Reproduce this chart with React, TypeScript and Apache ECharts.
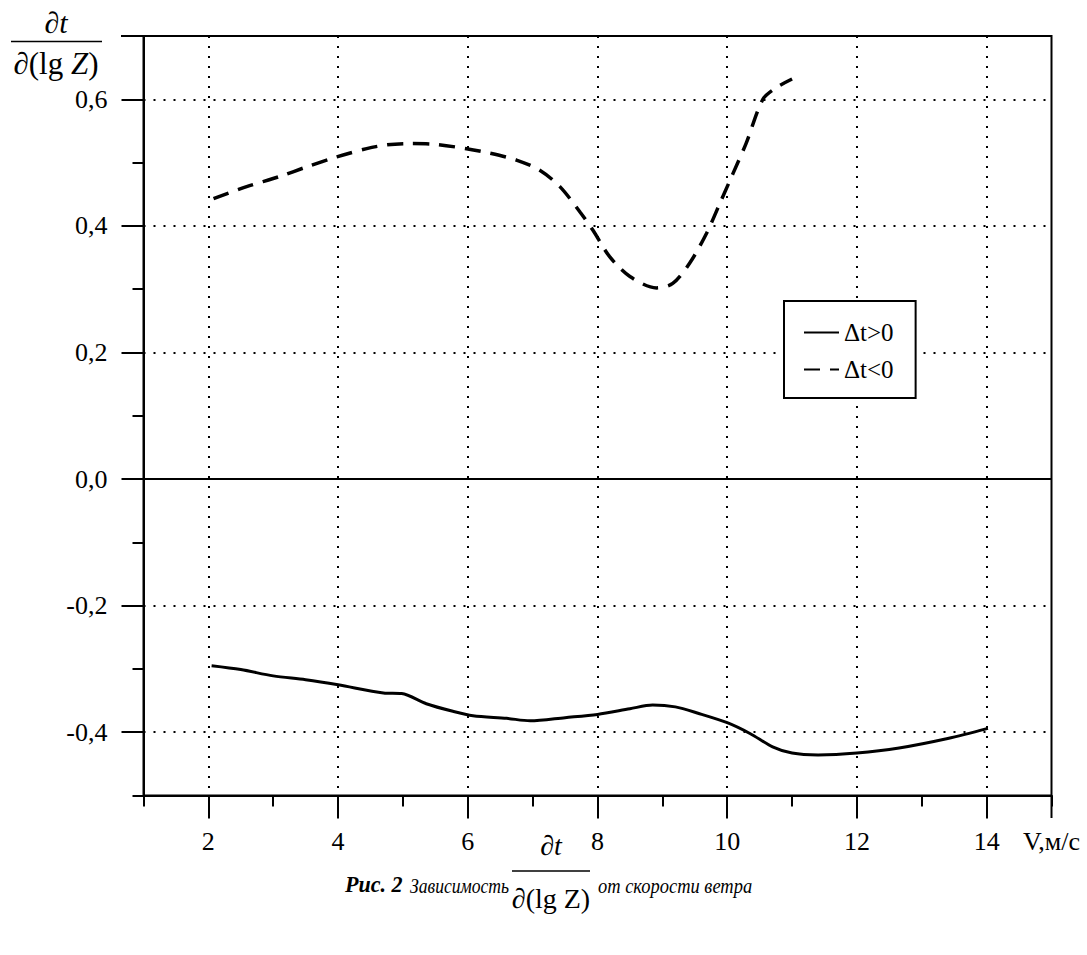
import React, { useEffect, useRef } from 'react';
import * as echarts from 'echarts';

// Δt>0 (solid)
const solidX = [2.05, 2.5, 3.0, 3.5, 4.0, 4.7, 4.98, 5.36, 5.77, 6.08, 6.6, 6.96, 7.5, 8.0, 8.5, 8.85, 9.2, 9.55, 10.0, 10.35, 10.7, 11.0, 11.4, 12.0, 12.65, 13.4, 14.02];
const solidY = [-0.295, -0.301, -0.311, -0.317, -0.325, -0.338, -0.339, -0.355, -0.367, -0.374, -0.378, -0.382, -0.377, -0.372, -0.363, -0.357, -0.36, -0.37, -0.385, -0.402, -0.423, -0.433, -0.436, -0.433, -0.425, -0.41, -0.394];

// Δt<0 (dashed)
const dashX = [2.08, 2.59, 3.1, 3.51, 3.98, 4.44, 4.75, 5.06, 5.47, 5.98, 6.34, 6.75, 7.11, 7.42, 7.73, 7.93, 8.19, 8.5, 8.91, 9.16, 9.42, 9.68, 9.91, 10.09, 10.29, 10.55, 10.75, 11.0];
const dashY = [0.443, 0.462, 0.478, 0.493, 0.509, 0.522, 0.528, 0.53, 0.529, 0.522, 0.515, 0.504, 0.488, 0.462, 0.422, 0.393, 0.351, 0.32, 0.302, 0.309, 0.341, 0.388, 0.441, 0.483, 0.53, 0.6, 0.618, 0.632];

const seriesNames = ['Δt>0', 'Δt<0'];
const xLabelValues = [2, 4, 6, 8, 10, 12, 14];
const yLabelValues = [-0.4, -0.2, 0, 0.2, 0.4, 0.6];
const xUnit = 'V,м/с';
const captionLead = 'Рис. 2';
const captionMid = 'Зависимость';
const captionTail = 'от скорости ветра';

const FONT = "'Liberation Serif', 'Times New Roman', serif";

export default function App() {
  const ref = useRef<HTMLDivElement>(null);
  useEffect(() => {
    const chart = echarts.init(ref.current!, null, { renderer: 'svg' });
    const zip = (xs: number[], ys: number[]) => xs.map((x, i) => [x, ys[i]]);
    const gridDots = { color: '#000', width: 2, type: [2, 8] as number[] };
    chart.setOption({
      animation: false,
      backgroundColor: '#fff',
      textStyle: { fontFamily: FONT },
      grid: {
        left: 143.5, right: 35.5, top: 36, bottom: 159.5,
        show: true, borderColor: '#000', borderWidth: 2, backgroundColor: 'transparent',
      },
      xAxis: [
        {
          type: 'value', min: 1, max: 15, interval: 2,
          axisLine: { onZero: false, lineStyle: { color: '#000', width: 2 } },
          axisTick: { show: true, length: 11, lineStyle: { color: '#000', width: 2 } },
          minorTick: { show: true, splitNumber: 2, length: 23, lineStyle: { color: '#000', width: 2 } },
          splitLine: { show: false },
          minorSplitLine: { show: true, lineStyle: gridDots },
          axisLabel: { show: false },
        },
        {
          type: 'value', min: 1, max: 15, interval: 1, position: 'bottom',
          axisLine: { show: false, onZero: false },
          axisTick: { show: false },
          splitLine: { show: false },
          axisLabel: {
            show: true, interval: 0, margin: 33, hideOverlap: false,
            fontFamily: FONT, fontSize: 26, color: '#000',
            formatter: (v: number) => {
              const r = Math.round(v);
              if (Math.abs(v - r) > 1e-6) return '';
              if (xLabelValues.includes(r)) return String(r);
              if (r === 15) return xUnit;
              return '';
            },
          },
        },
      ],
      yAxis: [
        {
          type: 'value', min: -0.5, max: 0.7, interval: 0.2,
          axisLine: { onZero: false, lineStyle: { color: '#000', width: 2 } },
          axisTick: { show: true, length: 11, lineStyle: { color: '#000', width: 2 } },
          minorTick: { show: true, splitNumber: 2, length: 22, lineStyle: { color: '#000', width: 2 } },
          splitLine: { show: false },
          minorSplitLine: { show: true, lineStyle: gridDots },
          axisLabel: { show: false },
        },
        {
          type: 'value', min: -0.5, max: 0.7, interval: 0.1, position: 'left',
          axisLine: { show: false, onZero: false },
          axisTick: { show: false },
          splitLine: { show: false },
          axisLabel: {
            show: true, margin: 36, fontFamily: FONT, fontSize: 26, color: '#000',
            formatter: (v: number) =>
              yLabelValues.some((t) => Math.abs(t - v) < 1e-6) ? v.toFixed(1).replace('.', ',').replace('-0,0', '0,0') : '',
          },
        },
      ],
      legend: {
        orient: 'vertical', left: 784, top: 301,
        data: seriesNames,
        itemWidth: 35, itemHeight: 14, itemGap: 12,
        padding: [19, 22, 16, 19],
        borderColor: '#000', borderWidth: 2, backgroundColor: '#fff',
        itemStyle: { opacity: 0 },
        textStyle: { fontFamily: FONT, fontSize: 25, color: '#000' },
      },
      series: [
        {
          name: seriesNames[0], type: 'line', xAxisIndex: 0, yAxisIndex: 0,
          data: zip(solidX, solidY), symbol: 'none', showSymbol: false, smooth: 0.3,
          lineStyle: { color: '#000', width: 3 }, itemStyle: { color: '#000' },
          markLine: {
            silent: true, symbol: 'none', label: { show: false },
            lineStyle: { color: '#000', width: 2, type: 'solid' },
            data: [{ yAxis: 0 }],
          },
        },
        {
          name: seriesNames[1], type: 'line', xAxisIndex: 0, yAxisIndex: 0,
          data: zip(dashX, dashY), symbol: 'none', showSymbol: false, smooth: 0.3,
          lineStyle: { color: '#000', width: 3.5, type: [16, 10] }, itemStyle: { color: '#000' },
        },
      ],
      graphic: [
        { type: 'line', shape: { x1: 121, y1: 36, x2: 144, y2: 36 }, style: { stroke: '#000', lineWidth: 2 } },
        { type: 'line', shape: { x1: 1051.5, y1: 795, x2: 1051.5, y2: 818 }, style: { stroke: '#000', lineWidth: 2 } },
        // y-axis title fraction
        {
          type: 'text', x: 56, y: 22,
          style: { text: '∂{i|t}', fontFamily: FONT, fontSize: 30, fill: '#000', align: 'center', verticalAlign: 'middle',
            rich: { i: { fontFamily: FONT, fontSize: 30, fontStyle: 'italic', fill: '#000' } } },
        },
        { type: 'line', shape: { x1: 11, y1: 41.5, x2: 102, y2: 41.5 }, style: { stroke: '#000', lineWidth: 1.5 } },
        {
          type: 'text', x: 56, y: 63,
          style: { text: '∂(lg {i|Z})', fontFamily: FONT, fontSize: 31, fill: '#000', align: 'center', verticalAlign: 'middle',
            rich: { i: { fontFamily: FONT, fontSize: 31, fontStyle: 'italic', fill: '#000' } } },
        },
        // caption
        {
          type: 'text', x: 345, y: 884, scaleX: 0.92,
          style: { text: captionLead, fontFamily: FONT, fontSize: 24, fontStyle: 'italic', fontWeight: 'bold', fill: '#000',
            align: 'left', verticalAlign: 'middle' },
        },
        {
          type: 'text', x: 410, y: 885, scaleX: 0.8,
          style: { text: captionMid, fontFamily: FONT, fontSize: 22, fontStyle: 'italic', fill: '#000',
            align: 'left', verticalAlign: 'middle' },
        },
        {
          type: 'text', x: 551, y: 845,
          style: { text: '∂{i|t}', fontFamily: FONT, fontSize: 28, fill: '#000', align: 'center', verticalAlign: 'middle',
            rich: { i: { fontFamily: FONT, fontSize: 28, fontStyle: 'italic', fill: '#000' } } },
        },
        { type: 'line', shape: { x1: 512, y1: 871, x2: 590, y2: 871 }, style: { stroke: '#000', lineWidth: 1.5 } },
        {
          type: 'text', x: 551, y: 898,
          style: { text: '∂(lg Z)', fontFamily: FONT, fontSize: 28, fill: '#000', align: 'center', verticalAlign: 'middle' },
        },
        {
          type: 'text', x: 598, y: 885, scaleX: 0.84,
          style: { text: captionTail, fontFamily: FONT, fontSize: 22, fontStyle: 'italic', fill: '#000', align: 'left', verticalAlign: 'middle' },
        },
      ],
    });
    return () => chart.dispose();
  }, []);
  return <div ref={ref} style={{ position: 'absolute', left: 0, top: 0, width: 1087, height: 955, background: '#fff' }} />;
}
